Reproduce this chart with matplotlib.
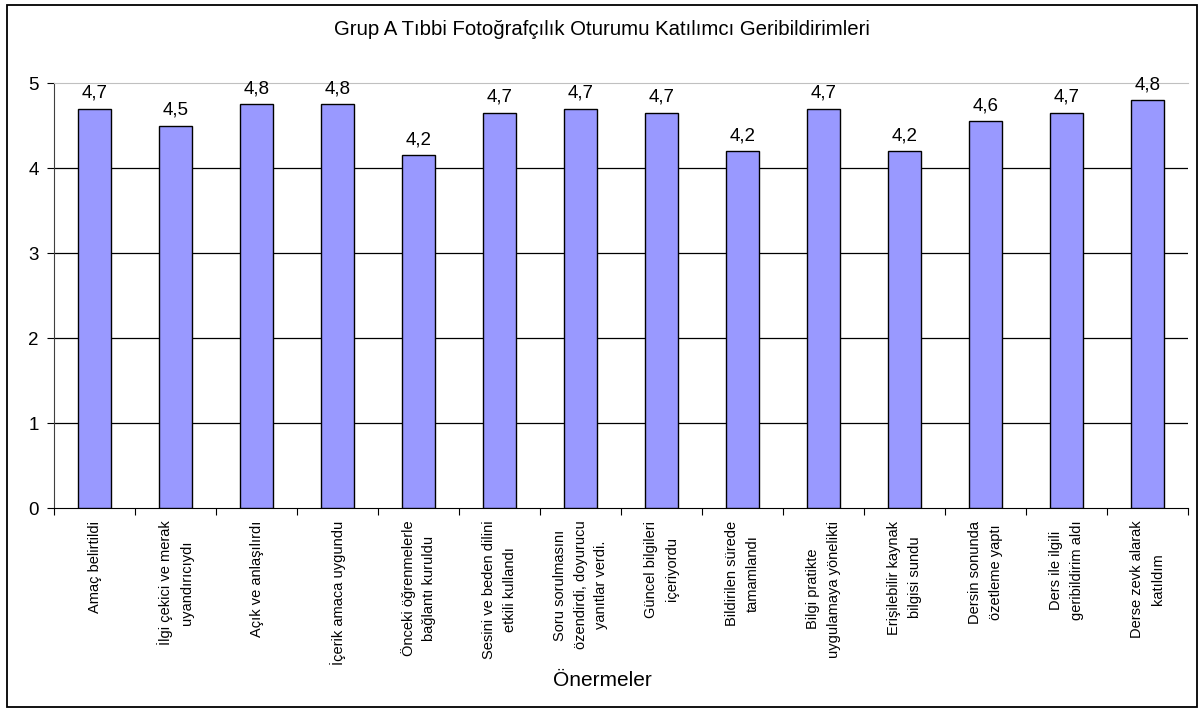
import numpy as np
import matplotlib
matplotlib.use("Agg")
import matplotlib.pyplot as plt
from matplotlib.patches import Rectangle

plt.rcParams["font.family"] = ["Liberation Sans", "DejaVu Sans"]

# ==============================
# DATOS
# ==============================
categories = [
    "Amaç belirtildi",
    "İlgi çekici ve merak\nuyandırıcıydı",
    "Açık ve anlaşılırdı",
    "İçerik amaca uygundu",
    "Önceki öğrenmelerle\nbağlantı kuruldu",
    "Sesini ve beden dilini\netkili kullandı",
    "Soru sorulmasını\nözendirdi, doyurucu\nyanıtlar verdi.",
    "Güncel bilgileri\niçeriyordu",
    "Bildirilen sürede\ntamamlandı",
    "Bilgi pratikte\nuygulamaya yönelikti",
    "Erişilebilir kaynak\nbilgisi sundu",
    "Dersin sonunda\nözetleme yaptı",
    "Ders ile ilgili\ngeribildirim aldı",
    "Derse zevk alarak\nkatıldım",
]
scores = [4.70, 4.50, 4.75, 4.75, 4.15, 4.65, 4.70, 4.65, 4.20, 4.70, 4.20, 4.55, 4.65, 4.80]
score_labels = ["4,7", "4,5", "4,8", "4,8", "4,2", "4,7", "4,7", "4,7", "4,2", "4,7", "4,2", "4,6", "4,7", "4,8"]
y_ticks = [0, 1, 2, 3, 4, 5]

title = "Grup A Tıbbi Fotoğrafçılık Oturumu Katılımcı Geribildirimleri"
xlabel = "Önermeler"

# ==============================
# FIGURA
# ==============================
fig = plt.figure(figsize=(12.04, 7.10), dpi=100)
ax = fig.add_axes([0.0449, 0.2845, 0.9418, 0.5985])

x = np.arange(len(categories))
ax.bar(x, scores, width=0.41, color="#9999FF", edgecolor="black", linewidth=1.0, zorder=3)

for xi, v, lab in zip(x, scores, score_labels):
    ax.annotate(lab, (xi, v), xytext=(0, 5), textcoords="offset points",
                ha="center", va="bottom", fontsize=13.5)

ax.set_xlim(-0.5, len(categories) - 0.5)
ax.set_ylim(0, 5)

# lineas de rejilla
for yv in y_ticks[1:-1]:
    ax.axhline(yv, color="black", linewidth=0.9, zorder=1)

ax.spines["right"].set_visible(False)
ax.spines["top"].set_color("#c0c0c0")
ax.spines["left"].set_color("#404040")
ax.spines["bottom"].set_color("black")

ax.set_yticks(y_ticks)
ax.set_yticklabels([str(v) for v in y_ticks], fontsize=13.5)
ax.tick_params(axis="y", direction="out", length=5, pad=6)

# ticks en los bordes de categoria, etiquetas en el centro
ax.set_xticks(np.arange(-0.5, len(categories), 1.0))
ax.set_xticklabels([])
ax.tick_params(axis="x", which="major", direction="out", length=5)
ax.set_xticks(x, minor=True)
ax.set_xticklabels(categories, minor=True, rotation=90, fontsize=10.5,
                   va="top", ha="center", multialignment="center", linespacing=1.6)
ax.tick_params(axis="x", which="minor", length=0, pad=9)

fig.text(0.5, 0.958, title, ha="center", va="center", fontsize=14.7)
fig.text(0.5, 0.042, xlabel, ha="center", va="center", fontsize=15)

fig.patches.append(Rectangle((0.0058, 0.0042), 0.9884, 0.989, transform=fig.transFigure,
                             fill=False, edgecolor="black", linewidth=1.3))

plt.savefig("out.png", dpi=100)
